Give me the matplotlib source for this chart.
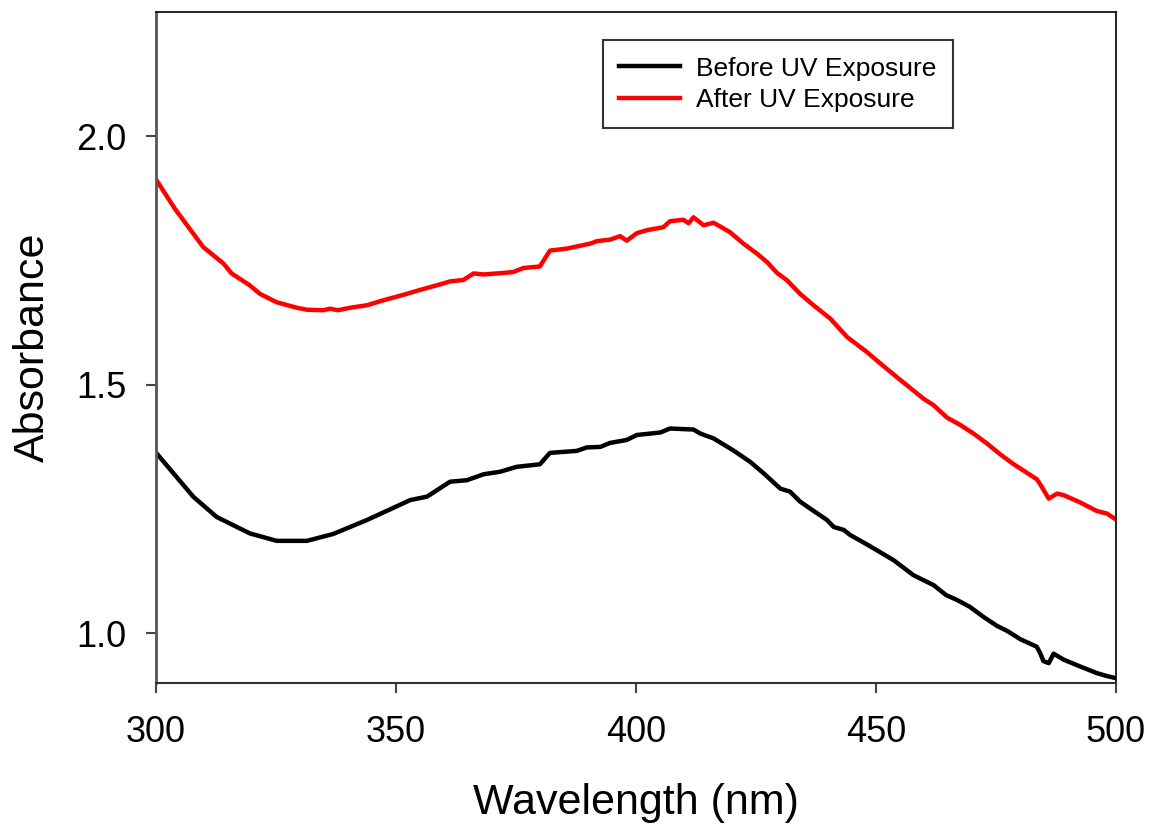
import matplotlib
matplotlib.use('Agg')
import matplotlib.pyplot as plt

plt.rcParams['font.family'] = ['Liberation Sans', 'DejaVu Sans']

# wavelength (nm) and absorbance
before_wl = [300.0, 307.8, 312.7, 319.6, 325.2, 331.5, 337.0, 344.0, 353.0, 356.5,
             361.3, 364.8, 368.3, 371.7, 375.2, 380.0, 382.1, 387.7, 389.8, 392.6,
             394.6, 398.1, 400.2, 405.1, 407.1, 412.0, 413.4, 416.2, 420.3, 423.8,
             426.6, 430.1, 432.1, 434.2, 436.3, 439.8, 441.2, 443.3, 444.6, 448.1,
             450.2, 453.7, 457.8, 462.0, 464.6, 466.9, 469.6, 472.4, 475.2, 477.3,
             480.1, 483.5, 484.2, 484.9, 486.0, 487.0, 489.1, 492.6, 496.0, 498.1,
             499.9]
before_abs = [1.364, 1.275, 1.234, 1.201, 1.186, 1.186, 1.200, 1.228, 1.268, 1.275,
              1.305, 1.308, 1.320, 1.325, 1.335, 1.340, 1.363, 1.367, 1.374, 1.375,
              1.383, 1.389, 1.399, 1.404, 1.412, 1.410, 1.402, 1.392, 1.368, 1.345,
              1.322, 1.291, 1.285, 1.265, 1.251, 1.228, 1.214, 1.208, 1.198, 1.179,
              1.167, 1.147, 1.117, 1.097, 1.077, 1.067, 1.053, 1.033, 1.015, 1.005,
              0.988, 0.973, 0.960, 0.944, 0.940, 0.959, 0.947, 0.933, 0.920, 0.914,
              0.910]

after_wl = [300.0, 304.0, 309.9, 314.1, 315.8, 319.6, 321.7, 325.2, 329.4, 331.5,
            334.9, 336.3, 338.0, 340.5, 344.0, 347.4, 351.6, 355.1, 358.5, 361.3,
            364.1, 366.2, 368.3, 372.4, 374.5, 376.6, 380.0, 382.1, 385.6, 390.5,
            391.9, 394.6, 396.7, 398.1, 400.2, 402.3, 405.7, 407.1, 409.9, 411.0,
            412.0, 414.1, 416.2, 419.6, 422.4, 425.2, 427.3, 429.4, 431.5, 434.2,
            437.0, 440.5, 444.0, 448.1, 450.9, 454.4, 459.9, 462.0, 464.8, 467.6,
            470.3, 473.1, 475.9, 478.7, 480.8, 483.5, 484.2, 486.0, 487.7, 489.1,
            492.6, 496.0, 498.1, 500.0]
after_abs = [1.914, 1.854, 1.777, 1.744, 1.724, 1.700, 1.683, 1.666, 1.655, 1.651,
             1.650, 1.653, 1.650, 1.655, 1.660, 1.670, 1.681, 1.691, 1.700, 1.708,
             1.711, 1.724, 1.722, 1.725, 1.727, 1.735, 1.738, 1.770, 1.774, 1.784,
             1.789, 1.792, 1.799, 1.790, 1.805, 1.811, 1.817, 1.829, 1.832, 1.825,
             1.837, 1.821, 1.826, 1.807, 1.784, 1.764, 1.747, 1.725, 1.710, 1.683,
             1.660, 1.633, 1.596, 1.566, 1.543, 1.515, 1.472, 1.459, 1.434, 1.419,
             1.402, 1.382, 1.360, 1.340, 1.327, 1.310, 1.300, 1.271, 1.281, 1.278,
             1.263, 1.246, 1.241, 1.229]

x_ticks = [300, 350, 400, 450, 500]
y_ticks = [1.0, 1.5, 2.0]

fig = plt.figure(figsize=(11.51, 8.27), dpi=100)
ax = fig.add_axes([0.1353, 0.1741, 0.8343, 0.8114])

ax.plot(before_wl, before_abs, color='black', lw=3.2, solid_joinstyle='round',
        label='Before UV Exposure')
ax.plot(after_wl, after_abs, color='red', lw=3.2, solid_joinstyle='round',
        label='After UV Exposure')

ax.set_xlim(300, 500)
ax.set_ylim(0.9, 2.25)
ax.set_xticks(x_ticks)
ax.set_yticks(y_ticks)
ax.set_yticklabels(['%.1f' % v for v in y_ticks])

for s in ['top', 'right']:
    ax.spines[s].set_linewidth(1.2)
    ax.spines[s].set_color('black')
ax.spines['left'].set_linewidth(2)
ax.spines['left'].set_color('#555555')
ax.spines['bottom'].set_linewidth(1.5)
ax.spines['bottom'].set_color('#333333')

ax.tick_params(direction='out', length=7, width=1.5, colors='#444444',
               labelcolor='black', labelsize=26, pad=14)
ax.tick_params(axis='x', pad=16)

ax.set_xlabel('Wavelength (nm)', fontsize=31, labelpad=24)
ax.set_ylabel('Absorbance', fontsize=31, labelpad=17)

leg = ax.legend(loc='upper right', bbox_to_anchor=(0.830, 0.958), borderaxespad=0,
                fontsize=19, fancybox=False, edgecolor='black', handlelength=2.3,
                borderpad=0.62, labelspacing=0.28, handletextpad=0.6)
leg.get_frame().set_linewidth(1.5)

fig.savefig('out.png', dpi=100)
